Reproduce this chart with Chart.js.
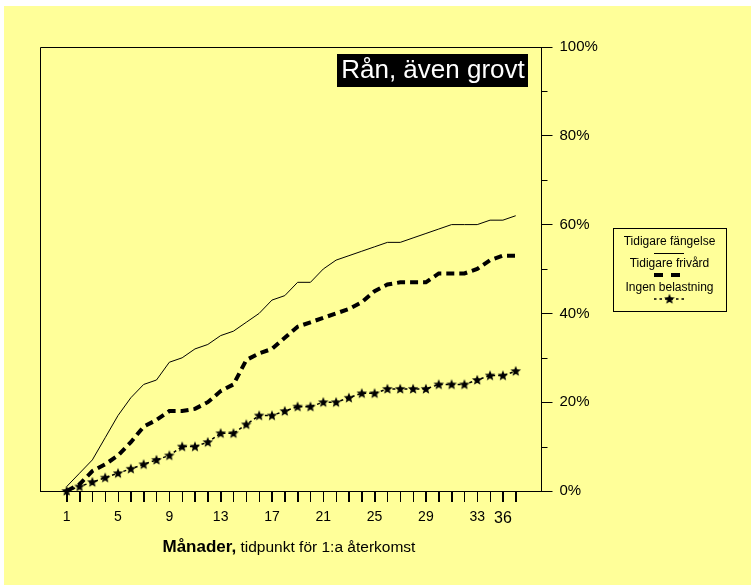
<!DOCTYPE html>
<html>
<head>
<meta charset="utf-8">
<script src="https://cdn.jsdelivr.net/npm/chart.js@4/dist/chart.umd.min.js"></script>
<style>
  html, body { margin: 0; padding: 0; background: #fff; }
  canvas { display: block; }
</style>
</head>
<body>
<canvas id="chart" width="751" height="585"></canvas>
<script>
const months = [1, 2, 3, 4, 5, 6, 7, 8, 9, 10, 11, 12, 13, 14, 15, 16, 17, 18,
  19, 20, 21, 22, 23, 24, 25, 26, 27, 28, 29, 30, 31, 32, 33, 34, 35, 36];
const tickLabels = ['1', '', '', '', '5', '', '', '', '9', '', '', '', '13', '', '', '', '17', '', '',
  '', '21', '', '', '', '25', '', '', '', '29', '', '', '', '33', '', '36', ''];
const yTicks = [0, 20, 40, 60, 80, 100];
const yMinorTicks = [10, 30, 50, 70, 90];

// % med återfall, läst ur bilden
const fangelse = [1, 4, 7, 12, 17, 21, 24, 25, 29, 30, 32, 33, 35, 36, 38, 40, 43, 44,
  47, 47, 50, 52, 53, 54, 55, 56, 56, 57, 58, 59, 60, 60, 60, 61, 61, 62];
const frivard = [0, 1.5, 4.5, 6, 8, 11, 14.5, 16, 18, 18, 18.5, 20, 22.5, 24, 29.5, 31, 32, 34.5,
  37, 38, 39, 40, 41, 42.5, 45, 46.5, 47, 47, 47, 49, 49, 49, 50, 52, 53, 53];
const ingen = [0, 1, 2, 3, 4, 5, 6, 7, 8, 10, 10, 11, 13, 13, 15, 17, 17, 18,
  19, 19, 20, 20, 21, 22, 22, 23, 23, 23, 23, 24, 24, 24, 25, 26, 26, 27];

const seriesNames = ['Tidigare fängelse', 'Tidigare frivård', 'Ingen belastning'];
const titel = 'Rån, även grovt';

const FONT = "'Liberation Sans', Arial, sans-serif";
const GUL = '#FFFF99';

// fylld stjärna som punktstil
const stjarna = (() => {
  const c = document.createElement('canvas');
  c.width = 12; c.height = 12;
  const g = c.getContext('2d');
  g.fillStyle = '#000';
  g.beginPath();
  for (let i = 0; i < 10; i++) {
    const r = i % 2 === 0 ? 5.5 : 2.4;
    const a = -Math.PI / 2 + i * Math.PI / 5;
    const px = 6 + r * Math.cos(a), py = 6.3 + r * Math.sin(a);
    i === 0 ? g.moveTo(px, py) : g.lineTo(px, py);
  }
  g.closePath();
  g.fill();
  return c;
})();

const toPoints = (arr) => arr.map((v, i) => ({ x: months[i], y: v }));

const bakgrund = {
  id: 'bakgrund',
  beforeDraw(chart) {
    const { ctx, chartArea: a } = chart;
    ctx.save();
    ctx.fillStyle = '#fff';
    ctx.fillRect(0, 0, chart.width, chart.height);
    ctx.fillStyle = GUL;
    ctx.fillRect(4, 6, chart.width - 4, chart.height - 6);
    // ram runt diagramytan (vänster + topp)
    ctx.strokeStyle = '#000';
    ctx.lineWidth = 1;
    ctx.beginPath();
    ctx.moveTo(Math.round(a.left) + 0.5, Math.round(a.bottom));
    ctx.lineTo(Math.round(a.left) + 0.5, Math.round(a.top) + 0.5);
    ctx.lineTo(Math.round(a.right), Math.round(a.top) + 0.5);
    ctx.stroke();
    ctx.restore();
  }
};

const extra = {
  id: 'extra',
  afterDraw(chart) {
    const { ctx } = chart;
    const x = chart.scales.x;
    const y = chart.scales.y;
    ctx.save();

    // streck på x-axeln
    ctx.strokeStyle = '#000';
    ctx.lineWidth = 1;
    months.forEach(m => {
      const px = Math.round(x.getPixelForValue(m)) + 0.5;
      ctx.beginPath();
      ctx.moveTo(px, x.top);
      ctx.lineTo(px, x.top + 11);
      ctx.stroke();
    });

    // små streck på höger axel
    yMinorTicks.forEach(v => {
      const py = Math.round(y.getPixelForValue(v)) + 0.5;
      ctx.beginPath();
      ctx.moveTo(y.left, py);
      ctx.lineTo(y.left + 6, py);
      ctx.stroke();
    });

    // rubrik
    ctx.fillStyle = '#000';
    ctx.fillRect(337, 54, 191, 33);
    ctx.fillStyle = '#fff';
    ctx.font = '26px ' + FONT;
    ctx.textAlign = 'center';
    ctx.textBaseline = 'middle';
    ctx.fillText(titel, 433, 71);

    // x-axelns titel
    ctx.fillStyle = '#000';
    ctx.textAlign = 'left';
    ctx.textBaseline = 'alphabetic';
    ctx.font = 'bold 17px ' + FONT;
    ctx.fillText('Månader,', 162.5, 551.5);
    const w = ctx.measureText('Månader,').width;
    ctx.font = '15.5px ' + FONT;
    ctx.fillText(' tidpunkt för 1:a återkomst', 162.5 + w, 551.5);

    // förklaring
    ctx.fillStyle = GUL;
    ctx.fillRect(613, 228, 113, 83);
    ctx.strokeStyle = '#000';
    ctx.strokeRect(613.5, 228.5, 113, 83);
    ctx.fillStyle = '#000';
    ctx.font = '12px ' + FONT;
    ctx.textAlign = 'center';
    ctx.textBaseline = 'middle';
    ctx.fillText(seriesNames[0], 669.5, 242);
    ctx.fillText(seriesNames[1], 669.5, 264);
    ctx.fillText(seriesNames[2], 669.5, 288);

    ctx.beginPath();
    ctx.moveTo(654, 253.5); ctx.lineTo(684, 253.5);
    ctx.stroke();

    ctx.lineWidth = 4;
    ctx.setLineDash([9, 8]);
    ctx.beginPath();
    ctx.moveTo(654, 275); ctx.lineTo(681, 275);
    ctx.stroke();

    ctx.lineWidth = 1.5;
    ctx.setLineDash([2.5, 3]);
    ctx.beginPath();
    ctx.moveTo(654, 299); ctx.lineTo(686, 299);
    ctx.stroke();
    ctx.setLineDash([]);
    ctx.drawImage(stjarna, 669.5 - 6, 299 - 6);

    ctx.restore();
  }
};

new Chart(document.getElementById('chart'), {
  type: 'line',
  data: {
    datasets: [
      {
        label: seriesNames[0],
        data: toPoints(fangelse),
        borderColor: '#000',
        borderWidth: 1,
        pointRadius: 0,
        tension: 0
      },
      {
        label: seriesNames[1],
        data: toPoints(frivard),
        borderColor: '#000',
        borderWidth: 4,
        borderDash: [8, 5],
        pointRadius: 0,
        tension: 0
      },
      {
        label: seriesNames[2],
        data: toPoints(ingen),
        borderColor: '#000',
        borderWidth: 1.5,
        borderDash: [3, 3],
        pointStyle: stjarna,
        pointRadius: 5,
        tension: 0,
        clip: false
      }
    ]
  },
  options: {
    responsive: false,
    devicePixelRatio: 1,
    animation: false,
    events: [],
    layout: { padding: { left: 40, top: 47, right: 0, bottom: 0 } },
    plugins: {
      legend: { display: false },
      tooltip: { enabled: false },
      title: { display: false }
    },
    scales: {
      x: {
        type: 'linear',
        min: -1.08,
        max: 38.01,
        afterBuildTicks: (s) => { s.ticks = months.map(m => ({ value: m })); },
        afterFit: (s) => { s.height = 94; },
        grid: { drawOnChartArea: false, tickLength: 11, tickColor: '#000', tickWidth: 1 },
        border: { display: true, color: '#000', width: 1 },
        ticks: {
          autoSkip: false,
          maxRotation: 0,
          padding: 7,
          color: '#000',
          font: (c) => ({ family: FONT, size: c.tick && c.tick.value === 35 ? 16 : 14 }),
          callback: (v) => tickLabels[v - 1]
        }
      },
      y: {
        position: 'right',
        min: 0,
        max: 100,
        afterBuildTicks: (s) => { s.ticks = yTicks.map(v => ({ value: v })); },
        afterFit: (s) => { s.width = 209.5; },
        grid: { drawOnChartArea: false, tickLength: 11, tickColor: '#000', tickWidth: 1 },
        border: { display: true, color: '#000', width: 1 },
        ticks: {
          padding: 7,
          color: '#000',
          font: { family: FONT, size: 15 },
          callback: (v) => v + '%'
        }
      }
    }
  },
  plugins: [bakgrund, extra]
});
</script>
</body>
</html>
